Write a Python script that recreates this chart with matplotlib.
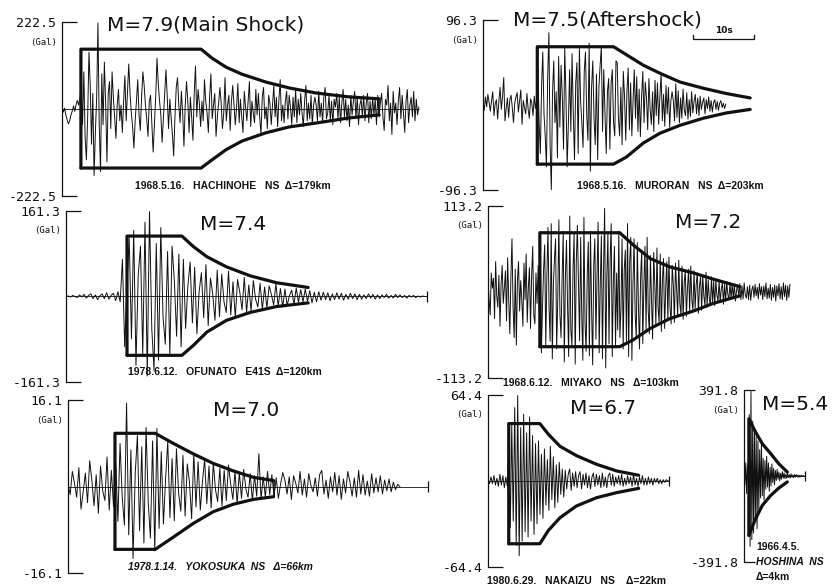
import matplotlib
matplotlib.use('Agg')
import matplotlib.pyplot as plt
import numpy as np

# ---------------------------------------------------------------
# Accelerograms (Gal), plus the envelope curves
# ---------------------------------------------------------------

# 1968.5.16 Hachinohe NS, M=7.9 (main shock)
hachinohe_peak = 222.5
hachinohe_dur = 58.5
hachinohe_acc = [5, -8, 2, -15, -28, -38, -30, -15, -5, 8, -6, 12, 22, 10, 28,
                 60, -40, 95, -70, -130, -20, 145, 60, -90, 40, -170, -60, 30, 220, -40, -160,
                 90, -40, 120, 15, -135, 40, 70, -50,
                 95, 30, -20, -75, 10, 50, -30, 10, -60, 20, 85, -30, 40, 115, 40, -10, -45,
                 -100, -30, 20, 75, -15, -55, 30, 95, 60, 10, -25, -70, 20, 35, -40, -110, -40,
                 30, 130, 65, 20, -15, -85, -20, 40, 100, 30, -50, 25, -20, -65, -120, -20, 55,
                 80, 10, -35, 45, -10, -95, 10, 70, 20, -60, 30, -20, -80, 40, 110, -20, 50, 15,
                 -45, 20, -30,
                 75, 20, -10, -60, 30, 90, -25, 10, 40, -70, -20, 15, 55, 15, -50, -10, 80, -30,
                 10, 35, -55, 20, 60, 10, -40, 5, 65, -35, 25, -20, -60, 45, 5, -30, 20, 70, -45,
                 20, -10, -35, 50, -15, 40, -20, -65, 30, 55, -25, 5, -50, 35, 15, -40, 10, 60,
                 -20, 30, -45, 25, 75, -30, 10, -35, 20, 45, -25, 35, 5, -40, 30, -20, 50, -35,
                 25, -15, 40, -10, -45, 20, 60, -30, 15, -25, 35, -40, 10, 30, 10, -30, 45, -20,
                 15, -35, 30, 55, -25, -10, 35, -30, 20, -40, 25, 5, 40, -25, 30, -35, 15, 50,
                 -20, 25, -30, 10, -45, 35, -15, 20, 45, -25, 30, -40, 10, 25, -20, 35, -30, 15,
                 40, -35, 20, -25, 30, -15, 25, -40, 35, -20, 15,
                 40, -20, -55, 25, 10, 60, -30, 15, -65, 45, -10, 15, -40, 20, 55, -25, 35, -10,
                 -60, 20, 50, -35, 10, 30, -20, 45, -30, 25, -15, 5]
hachinohe_env_t = [3.1, 22.8, 24.6, 26.9, 29.5, 33.4, 37.2, 41.6, 47.0, 52.0]
hachinohe_env_top = [153, 153, 130, 107, 89, 69, 54, 41, 31, 26]
hachinohe_env_bot = [-151, -151, -130, -104, -82, -61, -46, -36, -23, -15]

# 1968.5.16 Muroran NS, M=7.5 (aftershock)
muroran_peak = 96.3
muroran_dur = 39.8
muroran_acc = [3, -6, 9, -2, 12, 3, -7, 5, 15, -12, 2, 6, -16, 4, 20, -5, 10, 31, -18, -4, 8,
               -14, 6, 11, -3, -20, 2, 9, 14, -8, 4, 17, -22, 5, -3, -10, 13, -5, -15, 7, 2, -12,
               10, -4, 6,
               40, -20, -55, 20, 60, -10, -35, -70, 30, 82, -45, -96, 15, 50, -20, 15, -60, 55,
               -25, 45, 10, -50, 65, 10, -70, -20, 40, -30, 58, -10, -62, 25, 48, -55, 64, 5,
               -20, -48, 38, 60, -10, -40, 70, -75, 20, 50, -15, -45, 35, -62, 20, 45, 66, -30,
               40, -10, -55, 15, 30, -50, 25, 40, -20, -35, 50,
               48, -15, -35, 20, -45, 38, 10, -40, 15, 42, -28, 25, -35, 5, 40, -15, 32, -30, 18,
               -36, 10, 38, -20, 26, 8, -28, 30, -5, -22, 15, -30, 28, -12, 25, -22, 10, 35, -18,
               12, -24, 22, -10, 20, -25, 5, 15, 5, -18, 24, -14, 16, -20, 8, -15, 18, -6, -12,
               14, -16, 6, -13, 15, -9, 4, 12, -10, 8, -12, 10, -5, 3, 8, -10, 6, -4, 9, -7, 5,
               -8, 3, 6, -5, 4, -6, 2, 5, -3, 2, -4, 1]
muroran_env_t = [8.9, 21.4, 23.5, 26.3, 29.0, 32.3, 36.1, 39.9, 43.8]
muroran_env_top = [66, 66, 57, 45, 36, 26, 19, 13, 8]
muroran_env_bot = [-67, -67, -59, -43, -32, -23, -15, -9, -5]
scale_bar_s = 10

# 1978.6.12 Ofunato E41S, M=7.4
ofunato_peak = 161.3
ofunato_dur = 59.2
ofunato_acc = [0, 1, -1, 2, 0, -2, 3, -1, 4, -3, 2, 5, -4, 3, -6, 1, 5, -4, 7, -5, 2, 6, -8, 9, -10,
               70, -95, 20, 110, -80, 125, -130, 40, 95, -110, 140, -150, 160, -60, -140, 100,
               -120, 130, -40, -90, 85, -110, 95, 30, -75, 80, -95, 70,
               -60, 20, 65, -50, 55, -70, 10, 45, -40, 60, -55, 35, 5, -45, 50, -38, 42, -10,
               -30, 48, -35, 28, -40, 32, 8, -25, 36, -30, 22, -28, 30, -5, -20, 25, -24, 18,
               -22, 20, 4, -16, 24, -18, 15, -20, 14, -17, 2, 12, -15, 16, -11, 13, -10, 14, -9,
               11, -12, 8, -10, 9,
               -7, 8, -6, 7, -8, 5, -6, 7, -5, 6, -7, 4, -5, 6, -4, 5, -6, 4, -5, 3, -4, 5, -3, 4,
               -5, 3, -4, 3, -2, 4, -3, 2, -3, 4, -2, 3, -2, 2, -3, 2, -1, 2, -2, 1, -1, 1, 0, 0]
ofunato_env_t = [10.0, 19.0, 20.9, 23.1, 26.3, 30.2, 34.5, 39.7]
ofunato_env_top = [114, 114, 94, 75, 56, 39, 26, 17]
ofunato_env_bot = [-111, -111, -92, -67, -45, -30, -19, -12]

# 1968.6.12 Miyako NS, M=7.2
miyako_peak = 113.2
miyako_dur = 49.5
miyako_acc = [15, -10, -30, 25, 5, 18, -35, 40, -5, -20, 22, -45, 10, 35, -15, 5, 28, -38, 45,
              -10, -55, 20, 70, -20, -60, 30, -70, 15, 40, -25, 15, -10, -45, 38, -10, 50, -40,
              5, 32, -48, 20, 60, -30, -42, 25, -15, 35, -25,
              75, -80, -20, 30, 62, -70, 20, 85, -20, -65, 90, -88, 10, 45, 70, -75, -10, 95,
              -30, -60, 20, 80, -92, 20, 68, -20, -85, 100, -50, -70, 30, 76, -95, 40, 88, 10,
              -64, 72, -30, -90, 98, -40, -78, 20, 66, -84, 80, -20, -96, 35, 70, -62, 20, 92,
              -80, 10, 74, -88, 30, 110, -100, 20, 78, -68, 40, 90, -85, 15, 60, -70, 25, -50,
              80, -60, -20, 70, -75, 30, 55, -65,
              90, -85, 40, 72, -90, 10, 70, -30, -60, 65, -20, -75, 20, 55, -68, 10, 60, -50,
              72, -25, -55, 48, -10, -62, 52, 10, -45, 58, -20, -40, 50, -52, 15, 44, -48, 5,
              40, -38, 46, -20, -42, 35, 10, -40, 38, 5, -32, 42, -15, -30, 34, -36, 12, 28,
              -32, 5, 30, -26, 34, -10, -24, 28, -22, 10, 25, -28, 8, 20, -24, 22, -5, -18, 26,
              -20, 16, -8, -18, 20, -15, 14, -18, 16, -4, -12, 15, -14, 4, 12, -16, 10, -12, 14,
              -3, -10, 12, -9, 11, -8, 10, -12, 2, 9, -7, 11, -10, 8, -9, 12, -4, -8,
              7, -10, 9, -11, 3, 8, -7, 10, -5, 6, -9, 11, -4, 7, -10, 8, -6, 12, -9, 5, -8, 10,
              -11, 6, -7, 9, -12, 8, -5, 11, -9, 7, -10, 12, -6, 9, -11, 8, -7, 10]
miyako_env_t = [8.5, 21.6, 23.8, 26.6, 29.8, 33.7, 36.9, 41.3]
miyako_env_top = [78, 78, 62, 44, 33, 25, 17, 7]
miyako_env_bot = [-72, -72, -63, -48, -35, -25, -15, -5]

# 1978.1.14 Yokosuka NS, M=7.0
yokosuka_peak = 16.1
yokosuka_dur = 54.4
yokosuka_line_end = 59.0
yokosuka_acc = [0.5, -1.5, 2.8, 0.6, -2.0, 3.5, -4.2, -1.0, 2.5, -3.0, 4.8, 1.2, -3.6, 2.2,
                -5.0, 3.8, -0.8, -2.6, 5.5, -4.4, 3.0, -3.8, 4.5,
                -6.5, 8.0, -2.0, -7.2, 15.5, -9.0, 6.8, -13.4, 2.5, 9.5, -8.2, 7.4, -10.5, 11.0,
                -3.0, -9.6, 8.5, -12.0, 10.8, -7.8,
                6.5, -7.0, 1.5, 8.4, -5.8, 5.2, -6.4, 7.0, -1.2, -4.6, 5.8, -5.5, 4.2, 0.8, -6.0,
                6.2, -3.8, 4.6, -4.4, 1.0, 5.0, -3.2, 3.8, -4.0, 4.4, -0.6, -2.8, 3.4, -3.6, 3.0,
                -2.6, 4.0, 0.5, -2.4, 2.8, -3.2, 2.6, -2.2, 3.2, -0.4, -2.0, 2.4, -2.6, 2.0, -1.8,
                6.1, -2.4, 1.8, -2.0, 2.8, -1.5, 2.2, -1.8, 1.6,
                -2.2, 0.4, 2.6, 1.2, -1.4, 1.8, -2.4, 2.0, 0.6, -1.2, 2.8, -1.6, 1.4, -2.0, 2.4,
                0.2, -1.0, 1.6, -1.8, 2.2, 3.0, -1.4, 1.2, -2.2, 1.8, -1.0, 2.6, -1.6, 2.0, -2.4,
                1.4, -1.2, 2.8, 0.8, -1.8, 1.6, -2.0, 3.0, -1.4, 2.2, -1.6, 1.0, -1.8, 2.4, -1.2,
                1.6, -1.0, 2.0, -1.4, 1.2, -0.8, 1.4, -1.0, 0.8, -0.6, 0.4, 0.0]
yokosuka_env_t = [7.7, 14.3, 17.3, 20.5, 23.8, 27.1, 30.4, 33.7]
yokosuka_env_top = [9.9, 9.9, 8.0, 6.1, 4.3, 2.9, 1.7, 1.1]
yokosuka_env_bot = [-11.7, -11.7, -9.4, -6.9, -4.7, -3.3, -2.4, -1.9]

# 1980.6.29 Nakaizu NS, M=6.7
nakaizu_peak = 64.4
nakaizu_dur = 29.7
nakaizu_acc = [1, -2, 3, -2, 4, -3, 2, -4, 5, -3, 4, -5, 3, -4,
               25, -35, 42, -30, 55, -48, 64, -56, 40, -45, 50, -38, 36, -42, 48, -30, 34, -40,
               28, -32,
               30, -25, 20, -28, 24, -18, 16, -22, 26, -14, 18, -20, 12, -16, 14, -10, 9, -12,
               8, -6, 5, 9, -7, 6, -4, 7, -5, 4, 7, -6, 5, -3, 6, -5, 4, -6, 3, 6, -4, 5, -3, 4,
               -5, 6, -4, 3, -5, 4, 6, -3, 5, -4, 3, -2, 4, -3, 5, -4, 2, -3, 4, -2, 3, -4, 5, -3,
               2, -4, 3, -2, 4, -3, 2, -3, 3, -2, 2, -3, 2, -1, 2, -2, 1, -2, 1, -1, 1, 0, 0]
nakaizu_env_t = [3.4, 8.5, 9.9, 11.8, 14.5, 17.8, 21.1, 24.7]
nakaizu_env_top = [43, 43, 35, 26, 19, 12.5, 7.5, 4.3]
nakaizu_env_bot = [-47, -47, -37, -27.5, -18.7, -12.5, -8.7, -5.5]

# 1966.4.5 Hoshina NS, M=5.4
hoshina_peak = 391.8
hoshina_dur = 10.0
hoshina_acc = [20, -40, 60, -80, 50, -30,
               280, -320, 385, -290, 250, -260, 220, -200, 180, -240, 160, -150,
               120, -100, 150, -90, 80, -110, 70, -60, 90, -50, 60, -70, 40, -45, 55, -30, 35, -40,
               25, -20, 30, -15, 18, -22, 12, -15, 20, -10, 14, -12, 8, -10, 12, -8, 6, -9, 10,
               -6, 5, -8, 7, -5, 6, -4, 5, -6, 3, -4, 4, -3, 2, -2, 0]
hoshina_env_t = [0.8, 0.8, 1.9, 3.0, 4.4, 5.7, 7.1]
hoshina_env_top = [261, 261, 200, 147, 101, 56, 18]
hoshina_env_bot = [-270, -270, -195, -134, -88, -55, -27]

# ---------------------------------------------------------------
W, H = 836, 587
PX_PER_S = 6.1   # 10 s = 61 px on the original sheet
INK = '#111111'


def fx(x):
    return x / W


def fy(y):
    return 1 - y / H


def add_panel(fig, left, top, bottom, width, peak, tick_len=11):
    ax = fig.add_axes([fx(left), fy(bottom), width / W, (bottom - top) / H])
    ax.set_xlim(0, width / PX_PER_S)
    ax.set_ylim(-peak, peak)
    for s in ('top', 'right', 'bottom'):
        ax.spines[s].set_visible(False)
    ax.spines['left'].set_linewidth(0.9)
    ax.spines['left'].set_color(INK)
    ax.set_xticks([])
    ax.set_yticks([-peak, peak])
    ax.set_yticklabels(['-%g' % peak, '%g' % peak], family='DejaVu Sans Mono', fontsize=9.5)
    ax.tick_params(axis='y', direction='in', length=tick_len, width=0.9, pad=4, colors=INK)
    ax.patch.set_alpha(0)
    ax.annotate('(Gal)', xy=(0, 1), xycoords='axes fraction', xytext=(-5, -20),
                textcoords='offset pixels', ha='right', va='center', fontsize=6.5,
                family='DejaVu Sans Mono', color=INK)
    return ax


def draw_record(ax, acc, dur, env_t, env_top, env_bot, baseline=None, end_tick=False,
                closed=False):
    t = np.linspace(0, dur, len(acc))
    if baseline is not None:
        ax.hlines(0, 0, baseline, color=INK, lw=0.6)
        if end_tick:
            ax.vlines(baseline, -0.06 * ax.get_ylim()[1], 0.06 * ax.get_ylim()[1],
                      color=INK, lw=0.9)
    ax.plot(t, acc, color=INK, lw=0.7)
    ax.plot([env_t[0]] + list(env_t), [env_bot[0]] + list(env_top), color=INK, lw=2.3,
            solid_joinstyle='round', solid_capstyle='round')
    ax.plot(env_t, env_bot, color=INK, lw=2.3, solid_joinstyle='round',
            solid_capstyle='round')
    if closed:
        ax.vlines(env_t[-1], env_bot[-1], env_top[-1], color=INK, lw=1.2)


fig = plt.figure(figsize=(W / 100, H / 100), dpi=100)
fig.patch.set_facecolor('white')

title_kw = dict(family='DejaVu Sans', fontsize=14.5, color=INK, va='center', ha='left')
cap_kw = dict(family='Liberation Sans', fontsize=7.5, weight='bold', color=INK,
              va='center', ha='left')

# Hachinohe
ax1 = add_panel(fig, 62, 22, 196, 358, hachinohe_peak)
draw_record(ax1, hachinohe_acc, hachinohe_dur, hachinohe_env_t, hachinohe_env_top,
            hachinohe_env_bot, baseline=hachinohe_dur, closed=True)
fig.text(fx(107), fy(25), 'M=7.9(Main Shock)', **title_kw)
fig.text(fx(135), fy(186), '1968.5.16.   HACHINOHE   NS  \u0394=179km', **cap_kw)

# Muroran
ax2 = add_panel(fig, 483, 20, 190, 285, muroran_peak)
draw_record(ax2, muroran_acc, muroran_dur, muroran_env_t, muroran_env_top, muroran_env_bot)
bar_t0 = (693 - 483) / PX_PER_S
bar_y = 75
ax2.plot([bar_t0, bar_t0, bar_t0 + scale_bar_s, bar_t0 + scale_bar_s],
         [bar_y + 4, bar_y, bar_y, bar_y + 4], color=INK, lw=0.9)
ax2.text(bar_t0 + scale_bar_s / 2, bar_y + 9, '10s', ha='center', va='center',
         fontsize=6.5, weight='bold', color=INK)
fig.text(fx(513), fy(20), 'M=7.5(Aftershock)', **title_kw)
fig.text(fx(577), fy(186), '1968.5.16.   MURORAN   NS  \u0394=203km', **cap_kw)

# Ofunato
ax3 = add_panel(fig, 66, 211, 382, 366, ofunato_peak)
draw_record(ax3, ofunato_acc, ofunato_dur, ofunato_env_t, ofunato_env_top, ofunato_env_bot,
            baseline=ofunato_dur, end_tick=True)
fig.text(fx(200), fy(225), 'M=7.4', **title_kw)
fig.text(fx(128), fy(372), '1978.6.12.   OFUNATO   E41S  \u0394=120km', **cap_kw)

# Miyako
ax4 = add_panel(fig, 488, 206, 378, 305, miyako_peak)
draw_record(ax4, miyako_acc, miyako_dur, miyako_env_t, miyako_env_top, miyako_env_bot)
fig.text(fx(675), fy(222), 'M=7.2', **title_kw)
fig.text(fx(503), fy(383), '1968.6.12.   MIYAKO   NS   \u0394=103km', **cap_kw)

# Yokosuka
ax5 = add_panel(fig, 68, 400, 573, 365, yokosuka_peak)
draw_record(ax5, yokosuka_acc, yokosuka_dur, yokosuka_env_t, yokosuka_env_top,
            yokosuka_env_bot, baseline=yokosuka_line_end, end_tick=True, closed=True)
fig.text(fx(213), fy(410), 'M=7.0', **title_kw)
fig.text(fx(128), fy(567), '1978.1.14.   YOKOSUKA  NS   \u0394=66km', style='italic', **cap_kw)

# Nakaizu
ax6 = add_panel(fig, 488, 395, 567, 185, nakaizu_peak)
draw_record(ax6, nakaizu_acc, nakaizu_dur, nakaizu_env_t, nakaizu_env_top, nakaizu_env_bot,
            baseline=nakaizu_dur, end_tick=True)
fig.text(fx(570), fy(409), 'M=6.7', **title_kw)
fig.text(fx(487), fy(581), '1980.6.29.   NAKAIZU   NS    \u0394=22km', **cap_kw)

# Hoshina
ax7 = add_panel(fig, 744, 390, 562, 66, hoshina_peak, tick_len=8)
draw_record(ax7, hoshina_acc, hoshina_dur, hoshina_env_t, hoshina_env_top, hoshina_env_bot,
            baseline=hoshina_dur, end_tick=True)
fig.text(fx(762), fy(405), 'M=5.4', **title_kw)
fig.text(fx(756), fy(547), '1966.4.5.', **cap_kw)
fig.text(fx(756), fy(562), 'HOSHINA  NS', style='italic', **cap_kw)
fig.text(fx(756), fy(577), '\u0394=4km', **cap_kw)

fig.savefig('out.png', dpi=100)
